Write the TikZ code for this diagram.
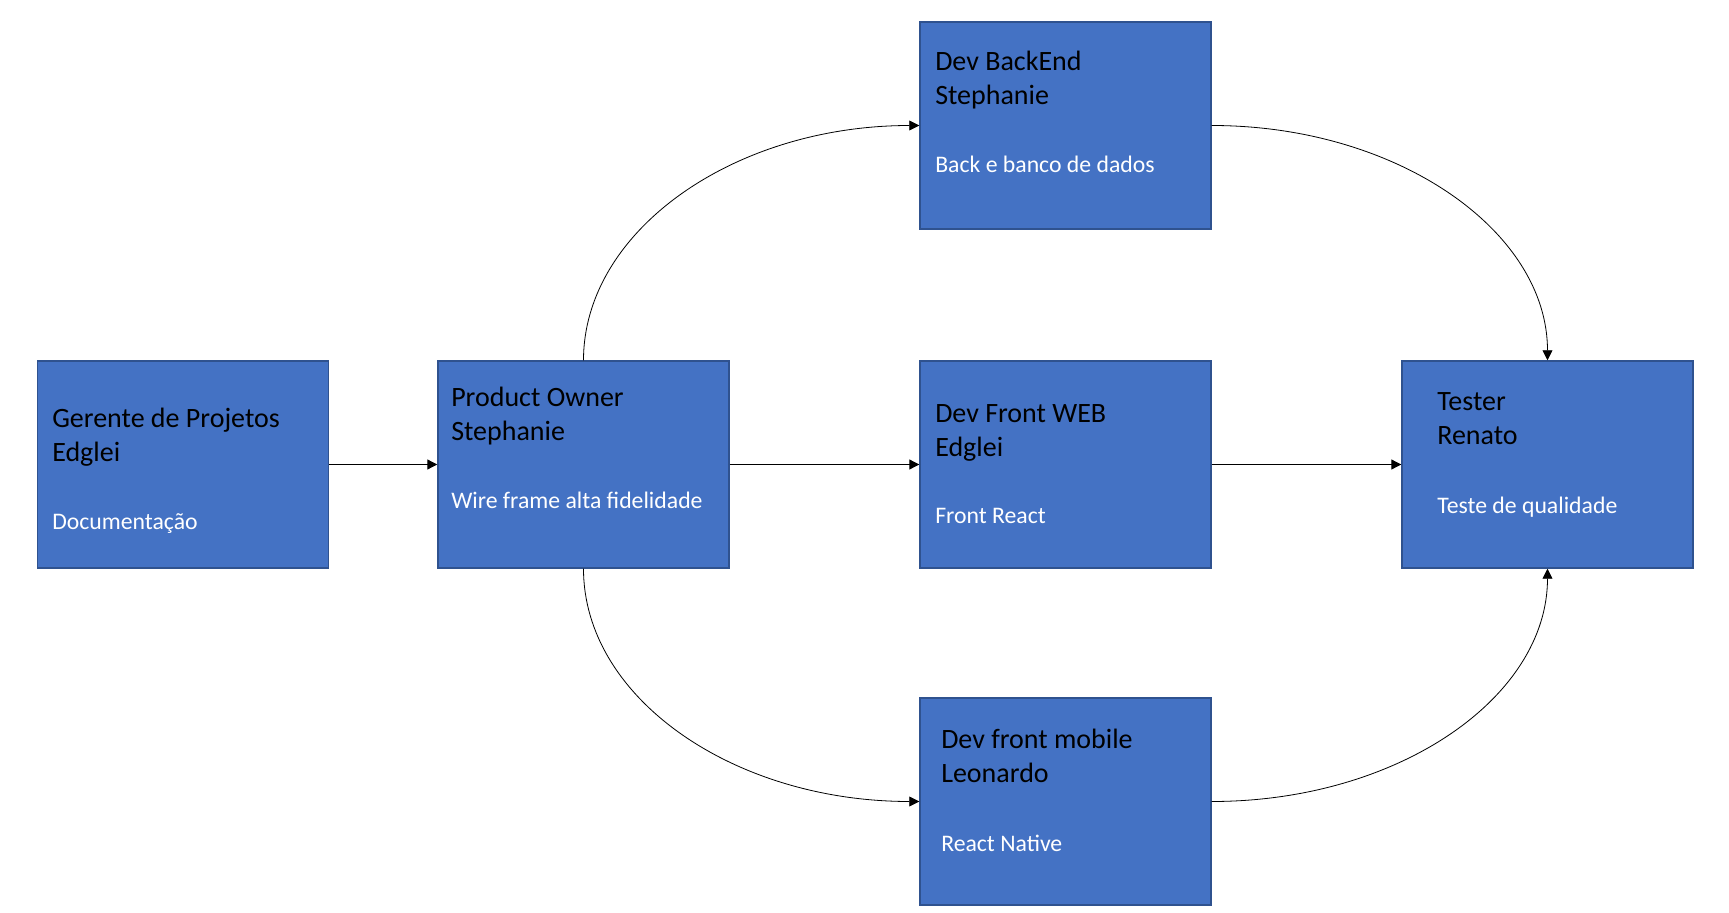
\documentclass[tikz,border=0pt]{standalone}
\usepackage{fontspec}
\setmainfont{Carlito}
\usepackage{tikz}
\usetikzlibrary{arrows.meta}
\definecolor{boxblue}{RGB}{68,114,196}
\definecolor{boxedge}{RGB}{47,82,143}
\tikzset{
  role/.style={draw=boxedge, fill=boxblue, line width=1.1pt,
    minimum width=218.25pt, minimum height=155.25pt, inner sep=0pt},
  head/.style={anchor=base west, align=left, inner sep=0pt,
    font=\fontsize{21}{25.5}\selectfont},
  task/.style={anchor=base west, inner sep=0pt, text=white,
    font=\fontsize{17.8}{21}\selectfont},
  flow/.style={-{Triangle[length=7.5pt,width=7.5pt]}, line width=0.9pt},
  sideflow/.style={-{Triangle[length=7.5pt,width=7.5pt]}, line width=0.6pt}
}

\begin{document}
\begin{tikzpicture}[x=0.75pt, y=-0.75pt]
        \useasboundingbox (0,0) rectangle (1729,913);
        % Boxes
        \node[role] (gp) at (183.25,464.5) {};
        \node[role] (po) at (583.5,464.5) {};
        \node[role] (back) at (1065.5,125.5) {};
        \node[role] (web) at (1065.5,464.5) {};
        \node[role] (tester) at (1547.5,464.5) {};
        \node[role] (mobile) at (1065.5,801.5) {};
        % Texts inside the boxes
        \node[head] (gpT) at (52,461) {Gerente de Projetos\\Edglei};
        \node[task] (gpS) at (52,529) {Documentação};
        \node[head] (poT) at (451,440) {Product Owner\\Stephanie};
        \node[task] (poS) at (451,508) {Wire frame alta fidelidade};
        \node[head] (backT) at (935,105) {Dev BackEnd\\Stephanie};
        \node[task] (backS) at (935,173) {Back e banco de dados};
        \node[head] (webT) at (935,456) {Dev Front WEB\\Edglei};
        \node[task] (webS) at (935,523) {Front React};
        \node[head] (testerT) at (1437,444) {Tester\\Renato};
        \node[task] (testerS) at (1437,513) {Teste de qualidade};
        \node[head] (mobileT) at (941,782) {Dev front mobile\\Leonardo};
        \node[task] (mobileS) at (941,851) {React Native};
        % Straight arrows
        \draw[flow] (gp.east) -- (po.west);
        \draw[flow] (po.east) -- (web.west);
        \draw[flow] (web.east) -- (tester.west);
        % Curved arrows
        \draw[sideflow] (po.north) .. controls +(0,-129) and +(-186,0) .. (back.west);
        \draw[sideflow] (back.east) .. controls +(186,0) and +(0,-129) .. (tester.north);
        \draw[sideflow] (po.south) .. controls +(0,129) and +(-186,0) .. (mobile.west);
        \draw[sideflow] (mobile.east) .. controls +(186,0) and +(0,129) .. (tester.south);
    \end{tikzpicture}
\end{document}
